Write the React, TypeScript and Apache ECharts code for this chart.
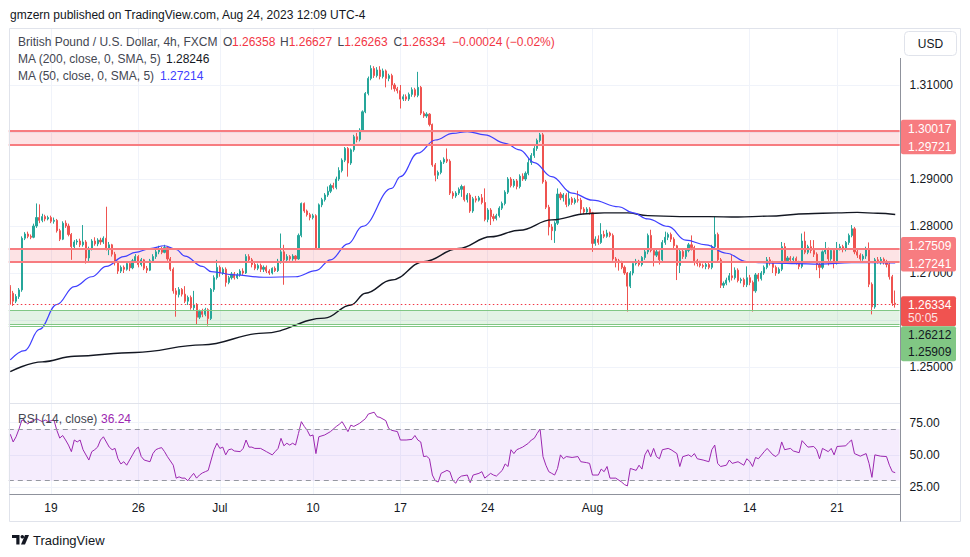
import { useEffect, useRef } from "react";
import * as echarts from "echarts";

const FONT = '"Liberation Sans", Arial, Helvetica, sans-serif';
const UP = "#26a69a";
const DOWN = "#ef5350";

// 4h GBP/USD candles, values in pips above 1.2000 (e.g. 671 -> 1.2671)
const BASE_PRICE = 1.2;
const opens = [
  671,657,640,650,664,774,783,778,776,800,
  818,812,820,815,818,810,812,790,772,806,
  800,782,756,766,768,760,766,732,752,768,
  762,770,766,774,752,760,740,722,704,712,
  708,720,711,726,735,718,728,710,706,726,
  735,745,752,744,754,730,708,662,654,665,
  655,640,648,626,632,606,618,612,622,603,
  665,690,712,700,708,680,690,698,690,696,
  704,700,735,728,718,710,716,708,712,704,
  700,710,705,725,745,728,735,730,736,730,
  780,848,832,824,818,822,753,845,856,866,
  874,886,882,900,918,940,965,934,962,990,
  984,1004,1043,1082,1114,1135,1120,1132,1118,1130,
  1114,1120,1100,1092,1088,1070,1075,1070,1080,1090,
  1078,1095,1040,1034,1038,1016,930,908,914,936,
  942,938,870,864,870,878,884,856,866,832,
  858,855,860,850,814,834,820,816,822,838,
  848,872,900,886,896,884,906,900,912,935,
  950,965,982,994,894,840,798,790,806,868,
  860,866,846,858,850,856,855,836,830,836,
  828,763,772,765,782,778,785,780,730,726,
  722,712,700,672,700,720,725,718,733,745,
  780,748,738,745,728,765,776,782,772,758,
  716,746,735,748,760,754,726,720,716,714,
  718,712,756,782,728,674,678,685,694,690,
  706,684,686,675,690,680,662,696,688,700,
  712,728,722,712,700,708,756,726,732,728,
  731,722,714,768,744,756,748,740,718,712,
  745,750,730,748,722,752,756,750,765,780,
  794,745,738,730,736,752,676,628,728,726,
  729,724,718,692,635.8,
];
const closes = [
  657,640,650,664,774,783,778,776,800,818,
  812,820,815,818,810,812,790,772,806,800,
  782,756,766,768,760,766,732,752,768,762,
  770,766,774,752,760,740,722,704,712,708,
  720,711,726,735,718,728,710,706,726,735,
  745,752,744,754,730,708,662,654,665,655,
  640,648,626,632,606,618,612,622,603,665,
  690,712,700,708,680,690,698,690,696,704,
  700,735,728,718,710,716,708,712,704,700,
  710,705,725,745,728,735,730,736,730,780,
  848,832,824,818,822,753,845,856,866,874,
  886,882,900,918,940,965,934,962,990,984,
  1004,1043,1082,1114,1135,1120,1132,1118,1130,1114,
  1120,1100,1092,1088,1070,1075,1070,1080,1090,1078,
  1095,1040,1034,1038,1016,930,908,914,936,942,
  938,870,864,870,878,884,856,866,832,858,
  855,860,850,814,834,820,816,822,838,848,
  872,900,886,896,884,906,900,912,935,950,
  965,982,994,894,840,798,790,806,868,860,
  866,846,858,850,856,855,836,830,836,828,
  763,772,765,782,778,785,780,730,726,722,
  712,700,672,700,720,725,718,733,745,780,
  748,738,745,728,765,776,782,772,758,716,
  746,735,748,760,754,726,720,716,714,718,
  712,756,782,728,674,678,685,694,690,706,
  684,686,675,690,680,662,696,688,700,712,
  728,722,712,700,708,756,726,732,728,731,
  722,714,768,744,756,748,740,718,712,745,
  750,730,748,722,752,756,750,765,780,794,
  745,738,730,736,752,676,628,728,726,729,
  724,718,692,636,633.4,
];
const lows = [
  633,630,636,645,660,770,774,772,774,796,
  806,808,810,812,806,805,786,768,770,796,
  778,728,752,760,755,756,720,725,748,758,
  757,760,762,748,738,735,716,698,700,700,
  705,704,708,722,712,714,706,700,704,722,
  730,740,740,742,726,704,656,607,648,650,
  636,632,622,620,590,602,606,608,588,600,
  660,686,692,696,671,676,686,686,687,692,
  696,698,722,712,706,706,702,702,700,696,
  697,702,702,720,675,724,726,726,726,728,
  776,828,820,812,814,750,750,840,852,862,
  870,878,878,896,914,936,905,930,958,978,
  980,1000,1040,1078,1110,1115,1116,1112,1114,1095,
  1108,1090,1086,1082,1050,1066,1066,1066,1075,1074,
  1074,1036,1030,1030,1012,926,895,900,910,932,
  934,866,858,860,866,862,852,850,828,828,
  850,852,846,810,808,802,810,812,818,834,
  844,868,882,882,878,880,896,896,908,930,
  945,960,978,890,836,780,770,764,802,855,
  852,840,842,845,846,850,826,825,826,824,
  745,758,760,762,774,775,776,726,712,705,
  708,696,618,668,695,716,714,714,728,740,
  744,714,734,718,724,760,770,766,752,685,
  700,730,730,744,748,716,714,712,710,708,
  708,708,752,724,668,668,674,680,684,686,
  680,678,670,670,674,618,658,682,684,696,
  708,716,700,694,698,704,720,722,724,724,
  718,708,710,740,740,742,734,706,689,708,
  740,716,726,710,718,748,744,746,760,776,
  740,732,726,726,730,670,612,624,720,718,
  718,712,686,630,626.3,
];
const highs = [
  674,662,655,668,778,787,788,782,805,848,
  846,826,824,822,822,818,815,794,810,812,
  805,785,770,772,773,802,770,756,772,776,
  774,775,778,841,766,762,745,726,716,716,
  724,724,730,740,738,732,730,715,730,740,
  750,758,756,760,756,734,712,668,670,668,
  672,652,652,662,636,622,624,626,625,668,
  695,728,716,712,712,694,702,702,700,708,
  710,740,740,732,722,720,720,716,716,708,
  712,714,730,784,760,740,738,740,738,784,
  850,850,835,828,826,825,848,860,870,884,
  890,892,905,925,944,968,968,965,994,998,
  1008,1046,1085,1118,1142,1140,1138,1140,1135,1133,
  1124,1124,1104,1096,1100,1080,1080,1084,1095,1094,
  1128,1098,1044,1042,1040,1018,934,918,940,946,
  965,942,874,874,882,888,886,870,870,862,
  864,864,868,880,838,838,826,826,842,852,
  876,904,904,900,900,910,912,916,945,955,
  970,986,998,998,898,845,804,810,880,872,
  870,870,875,862,860,875,860,840,840,840,
  830,778,780,806,790,792,788,784,734,730,
  726,716,702,704,724,730,728,736,750,784,
  792,752,750,748,770,788,786,786,776,760,
  750,752,752,764,780,758,730,726,720,722,
  722,760,820,786,732,682,690,700,738,712,
  710,690,690,714,696,684,700,700,704,716,
  734,734,726,716,712,766,764,736,736,735,
  735,726,784,788,760,770,770,744,722,748,
  766,754,752,752,766,762,760,768,784,802,
  798,752,742,740,756,765,680,732,734,734,
  733,728,722,696,662.7,
];

// time axis: bar index of each date label
const dateTickIndex = [14, 44, 72, 104, 134, 164, 200, 254, 284];
const dateTickLabels = ["19", "26", "Jul", "10", "17", "24", "Aug", "14", "21"];

// moving averages: [bar index, pips above 1.2000]
const ma200Pts = [
  [0,490],[11,511],[22,523],[43,531],[66,547],[87,572],[108,604],[117,632],[122,657],[131,685],
  [142,724],[154,752],[165,777],[175,791],[186,813],[198,826],[204,828],[212,828],[219,822],
  [230,820],[240,820],[250,819],[260,821],[274,826],[284,828],[291,829],[298,827],[304,824.6],
];
const ma50Pts = [
  [0,515],[5,535],[10,580],[16,633],[22,671],[28,692],[33,714],[39,735],[43,744],[48,752],
  [53,758],[57,750],[60,736],[66,714],[69,703],[77,696],[87,691],[98,692],[105,705],[110,728],
  [116,762],[121,799],[131,880],[134,905],[140,955],[146,983],[152,997],[157,1001],[163,994],
  [170,976],[175,962],[180,935],[186,905],[193,870],[200,855],[209,841],[214,828],[219,815],
  [226,799],[232,770],[239,760],[246,742],[253,724],[257,722],[263,721],[270,720],[278,719],
  [289,722],[296,722],[304,721.4],
];
// RSI(14): [bar index, value]
const rsiPts = [
  [0,66],[1,60],[2,64],[3,70],[4,77],[5,76],[6,74],[7,75.7],[8,76.5],[9,78],[11,75.7],[12,77],
  [13,75.7],[15,77],[16,69],[17,63],[18,65],[19,61.5],[20,57.6],[21,52.5],[22,61.5],[23,60],
  [24,61.5],[25,54],[27,46],[28,52.5],[29,54],[30,56],[31,61.5],[32,64],[34,56],[35,54],[36,55],
  [37,47],[38,43],[39,44.7],[40,42],[42,50],[43,54],[44,56],[45,48.7],[46,46],[48,44.7],[49,51],
  [50,54],[51,55],[52,55.6],[53,52.5],[54,48.6],[56,42],[57,32],[58,33],[59,32],[60,32],[61,30],
  [62,33],[63,35.7],[64,32],[65,34.4],[66,36],[67,37],[68,38],[69,46],[70,54],[71,59],[72,55],
  [73,56],[74,50],[75,54],[76,54.5],[77,53],[79,52.5],[80,55],[81,61.5],[82,56],[83,56],[84,55],
  [86,55],[88,52.5],[90,50],[91,52.5],[92,55],[93,62.8],[94,57],[95,59],[96,57.6],[97,59],
  [98,57.6],[99,66.6],[100,75.7],[101,72],[102,69],[103,64.6],[104,65.4],[105,51],[106,64],
  [108,65.4],[110,68],[112,72],[113,73.6],[114,75.7],[116,68],[117,73],[118,72],[120,74.4],
  [122,78],[123,81.6],[125,83],[126,79.5],[127,79],[129,76.5],[130,70.5],[131,69],[133,68],
  [134,61.5],[136,61.5],[138,62],[139,65],[140,61.5],[141,60],[142,48.7],[143,49],[144,47],
  [145,34.4],[146,30],[147,29],[148,35.7],[150,38],[151,37],[152,30.5],[153,28],[154,32],
  [155,33.6],[157,34.4],[158,28.5],[159,34.4],[161,35.7],[162,37],[163,32],[165,35.7],[166,34.4],
  [167,33.6],[169,38],[170,43],[171,41],[172,54],[173,51],[174,54],[175,55],[176,56],[178,59],
  [179,61.5],[180,62.8],[181,66.6],[182,70],[183,48.7],[184,42],[185,37],[186,35.7],[187,34.4],
  [188,39.5],[189,50],[190,47],[191,48.7],[193,48],[195,48.7],[196,44.7],[198,44],[199,43.4],
  [200,34.4],[202,34.4],[203,39],[204,37],[205,41],[206,32],[208,32],[210,29],[211,27],[212,26],
  [213,39.5],[215,38],[216,42],[217,39],[218,50],[219,54],[220,48.6],[221,55],[222,48.6],[223,47],
  [224,54],[226,55],[227,54],[229,51],[230,41],[231,48.6],[233,50],[234,48.6],[235,51],[236,47],
  [238,46],[240,44.7],[241,54],[242,57.6],[243,43.4],[244,41],[246,42],[247,46],[248,43.4],
  [250,44.7],[252,42],[253,47],[254,45],[255,41],[256,48],[257,47],[259,52.5],[260,55],[262,50],
  [263,48.7],[264,51],[265,60],[266,54],[268,55],[269,53],[271,51.7],[272,61],[274,56],[276,56.5],
  [277,54],[278,47],[279,55],[281,52.5],[282,55],[283,50],[284,56.5],[287,57],[288,59.5],
  [289,61.5],[290,51],[292,49],[294,51],[295,43.4],[296,32.6],[297,50],[299,49],[301,48.7],
  [302,42],[303,37],[304,36.24],
];

// drawn zones / levels
const resistanceZone = [1.29721, 1.30017];
const pivotZone = [1.27241, 1.27509];
const supportZone = [1.25909, 1.26212];
const supportExtraLine = 1.2587;
const lastClose = 1.26334;
const barCountdown = "50:05";
const legendLetters = ["O", "H", "L", "C"];
const legendValues = ["1.26358", "1.26627", "1.26263", "1.26334"];
const legendChange = "\u22120.00024 (\u22120.02%)";
const ma200Last = "1.28246";
const ma50Last = "1.27214";
const rsiLast = "36.24";
// price-scale labels hidden behind the level boxes in the reference
const hiddenPriceTicks = [1.24, 1.26, 1.3, 1.32];

const NCAT = 306;
const toP = (v: number) => +(BASE_PRICE + v / 10000).toFixed(5);

function buildOption() {
  const cats = Array.from({ length: NCAT }, (_, i) => String(i));
  const tickSet = new Set(dateTickIndex);
  const labelMap: Record<number, string> = {};
  dateTickIndex.forEach((ix, k) => (labelMap[ix] = dateTickLabels[k]));
  const candleData = opens.map((o, i) => [toP(o), toP(closes[i]), toP(lows[i]), toP(highs[i])]);
  const L = 8.8;
  const R = 70.4;
  const grid = "#f0f3fa";
  const none = "rgba(0,0,0,0)";
  const hiddenCat = (gi: number) => ({
    type: "category", gridIndex: gi, data: cats, boundaryGap: true,
    axisLine: { show: false }, axisTick: { show: false }, axisLabel: { show: false }, splitLine: { show: false },
  });
  const zoneLine = (v: number, color: string, width: number, type: any = "solid") => ({
    yAxis: v, lineStyle: { color, width, type },
  });
  return {
    animation: false,
    backgroundColor: "#ffffff",
    grid: [
      { left: L, right: R, top: 38, height: 376 },
      { left: L, right: R, top: 390.25, height: 129.25 },
      { left: L, right: R, top: 28, height: 466 },
    ],
    xAxis: [
      hiddenCat(0),
      hiddenCat(1),
      {
        type: "category", gridIndex: 2, data: cats, boundaryGap: true,
        axisLine: { show: false }, axisTick: { show: false },
        axisLabel: {
          show: true, interval: (i: number) => tickSet.has(i),
          formatter: (_v: string, i: number) => labelMap[i] ?? "",
          color: "#131722", fontSize: 12, fontFamily: FONT, margin: 8,
        },
        splitLine: {
          show: true, interval: (i: number) => tickSet.has(i), alignWithLabel: true,
          lineStyle: { color: grid, width: 1 },
        },
      },
    ],
    yAxis: [
      {
        type: "value", gridIndex: 0, position: "right", min: 1.24, max: 1.32, interval: 0.01,
        axisLine: { show: false }, axisTick: { show: false },
        axisLabel: {
          margin: 10, color: "#131722", fontSize: 12, fontFamily: FONT,
          formatter: (v: number) =>
            hiddenPriceTicks.some((h) => Math.abs(h - v) < 1e-6) ? "" : v.toFixed(5),
        },
        splitLine: { show: true, lineStyle: { color: [none, grid, grid, grid, grid, grid, grid, grid, none] } },
      },
      {
        type: "value", gridIndex: 1, position: "right", min: 0, max: 100, interval: 25,
        axisLine: { show: false }, axisTick: { show: false },
        axisLabel: {
          margin: 10, color: "#131722", fontSize: 12, fontFamily: FONT,
          formatter: (v: number) => (v === 0 || v === 100 ? "" : v.toFixed(2)),
        },
        splitLine: { show: true, lineStyle: { color: [none, grid, grid, grid, none] } },
      },
      { type: "value", gridIndex: 2, min: 0, max: 1, show: false },
    ],
    series: [
      {
        type: "candlestick", name: "GBPUSD", xAxisIndex: 0, yAxisIndex: 0, data: candleData,
        barWidth: 1.6, z: 2,
        itemStyle: { color: UP, color0: DOWN, borderColor: UP, borderColor0: DOWN, borderWidth: 1 },
        markArea: {
          silent: true,
          data: [
            [{ yAxis: resistanceZone[1], itemStyle: { color: "rgba(242,54,69,0.14)" } }, { yAxis: resistanceZone[0] }],
            [{ yAxis: pivotZone[1], itemStyle: { color: "rgba(242,54,69,0.14)" } }, { yAxis: pivotZone[0] }],
            [{ yAxis: supportZone[1], itemStyle: { color: "rgba(76,175,80,0.15)" } }, { yAxis: supportZone[0] }],
          ],
        },
        markLine: {
          silent: true, precision: 5, symbol: ["none", "none"], label: { show: false },
          data: [
            zoneLine(resistanceZone[0], "#f77c80", 2),
            zoneLine(resistanceZone[1], "#f77c80", 2),
            zoneLine(pivotZone[0], "#f77c80", 2),
            zoneLine(pivotZone[1], "#f77c80", 2),
            zoneLine(supportZone[0], "#81c784", 1),
            zoneLine(supportZone[1], "#81c784", 1),
            zoneLine(supportExtraLine, "#81c784", 1),
            zoneLine(lastClose, "#f23645", 1, [1.5, 2.5]),
          ],
        },
      },
      {
        type: "line", name: "MA200", xAxisIndex: 0, yAxisIndex: 0, z: 3,
        data: ma200Pts.map(([i, v]) => [i, toP(v)]),
        showSymbol: false, smooth: 0.4, smoothMonotone: "x",
        lineStyle: { color: "#131722", width: 1.4 },
      },
      {
        type: "line", name: "MA50", xAxisIndex: 0, yAxisIndex: 0, z: 3,
        data: ma50Pts.map(([i, v]) => [i, toP(v)]),
        showSymbol: false, smooth: 0.4, smoothMonotone: "x",
        lineStyle: { color: "#4040ff", width: 1.2 },
      },
      {
        type: "line", name: "RSI", xAxisIndex: 1, yAxisIndex: 1, z: 3,
        data: rsiPts, showSymbol: false,
        lineStyle: { color: "#9c27b0", width: 1 },
        markArea: {
          silent: true,
          data: [[{ yAxis: 70, itemStyle: { color: "rgba(140,40,230,0.09)" } }, { yAxis: 30 }]],
        },
        markLine: {
          silent: true, precision: 2, symbol: ["none", "none"], label: { show: false },
          data: [zoneLine(70, "#9598a1", 1, [5, 4]), zoneLine(30, "#9598a1", 1, [5, 4])],
        },
      },
    ],
  };
}

function buildGraphics(yOf: (p: number) => number) {
  const g: any[] = [];
  const txt = (x: number, y: number, text: string, fill: string, size = 12, extra: any = {}) => ({
    type: "text", x, y, z: 100, silent: true,
    style: {
      text, fill, font: `${size}px ${FONT}`,
      align: "left", verticalAlign: "middle", textAlign: "left", textVerticalAlign: "middle", ...extra,
    },
  });
  const ln = (x1: number, y1: number, x2: number, y2: number, stroke: string, w = 1) => ({
    type: "line", z: 60, silent: true, shape: { x1, y1, x2, y2 }, style: { stroke, lineWidth: w },
  });
  const frame = "#e0e3eb";
  const axisC = "#8f929c";
  g.push(ln(9.5, 28.5, 960.5, 28.5, frame));
  g.push(ln(9.5, 28.5, 9.5, 521.5, frame));
  g.push(ln(960.5, 28.5, 960.5, 521.5, frame));
  g.push(ln(9.5, 521.5, 960.5, 521.5, frame));
  g.push(ln(9.5, 403.5, 900, 403.5, frame));
  g.push(ln(9.5, 494.5, 900.5, 494.5, axisC));
  g.push(ln(900.5, 58, 900.5, 521.5, axisC));

  // header
  g.push(txt(10, 15, "gmzern published on TradingView.com, Aug 24, 2023 12:09 UTC-4", "#131722"));
  // legend
  const lg = "#434651";
  g.push(txt(18, 42, "British Pound / U.S. Dollar, 4h, FXCM", lg));
  const letterX = [223, 280, 337.5, 393.5];
  const valueX = [232, 288.7, 344.2, 402.2];
  legendLetters.forEach((l, k) => {
    g.push(txt(letterX[k], 42, l, lg));
    g.push(txt(valueX[k], 42, legendValues[k], "#f23645"));
  });
  g.push(txt(452, 42, legendChange, "#f23645"));
  g.push(txt(18, 59, "MA (200, close, 0, SMA, 5)", lg));
  g.push(txt(166, 59, ma200Last, "#131722"));
  g.push(txt(18, 75.5, "MA (50, close, 0, SMA, 5)", lg));
  g.push(txt(160, 75.5, ma50Last, "#4040ff"));
  g.push(txt(18, 419, "RSI (14, close)", lg));
  g.push(txt(101, 419, rsiLast, "#9c27b0"));

  // USD button
  g.push({ type: "rect", z: 100, silent: true, shape: { x: 904.5, y: 31.5, width: 52, height: 24, r: 4 }, style: { fill: "#fff", stroke: frame, lineWidth: 1 } });
  g.push(txt(930.5, 43.5, "USD", "#131722", 12, { align: "center", textAlign: "center" }));

  // price-scale label boxes
  const box = (y: number, h: number, fill: string) => ({
    type: "rect", z: 100, silent: true, shape: { x: 901, y, width: 55, height: h, r: 2 }, style: { fill },
  });
  const m1 = (yOf(resistanceZone[1]) + yOf(resistanceZone[0])) / 2;
  g.push(box(m1 - 18.5, 34.5, "#f77c80"));
  g.push(txt(908, m1 - 9, resistanceZone[1].toFixed(5), "#ffffff"));
  g.push(txt(908, m1 + 8.5, resistanceZone[0].toFixed(5), "#ffffff"));
  const m2 = (yOf(pivotZone[1]) + yOf(pivotZone[0])) / 2;
  g.push(box(m2 - 18.5, 34.5, "#f77c80"));
  g.push(txt(908, m2 - 9, pivotZone[1].toFixed(5), "#ffffff"));
  g.push(txt(908, m2 + 8.5, pivotZone[0].toFixed(5), "#ffffff"));
  const yl = yOf(lastClose);
  g.push(box(yl - 8, 30, "#f05350"));
  g.push(txt(908, yl + 0.5, lastClose.toFixed(5), "#ffffff"));
  g.push(txt(908, yl + 14, barCountdown, "rgba(255,255,255,0.85)"));
  const gt = yl + 22;
  g.push(box(gt, 35, "#81c784"));
  g.push(txt(908, gt + 8.5, supportZone[1].toFixed(5), "#131722"));
  g.push(txt(908, gt + 26, supportZone[0].toFixed(5), "#131722"));

  // TradingView logo
  const logo = "#131722";
  g.push({ type: "polygon", z: 100, silent: true, shape: { points: [[12, 535], [19.5, 535], [19.5, 544.5], [16.3, 544.5], [16.3, 538], [12, 538]] }, style: { fill: logo } });
  g.push({ type: "circle", z: 100, silent: true, shape: { cx: 22.3, cy: 536.8, r: 1.8 }, style: { fill: logo } });
  g.push({ type: "polygon", z: 100, silent: true, shape: { points: [[25, 535], [29, 535], [25, 544.5], [21, 544.5]] }, style: { fill: logo } });
  g.push(txt(33, 540, "TradingView", "#131722", 13));
  return g;
}

export default function App() {
  const ref = useRef<HTMLDivElement>(null);
  useEffect(() => {
    if (!ref.current) return;
    const chart = echarts.init(ref.current, undefined, { renderer: "svg", width: 970, height: 557 });
    chart.setOption(buildOption() as any);
    const yOf = (p: number) => chart.convertToPixel({ yAxisIndex: 0 } as any, p) as unknown as number;
    chart.setOption({ graphic: buildGraphics(yOf) } as any);
    return () => chart.dispose();
  }, []);
  return (
    <div
      ref={ref}
      style={{ position: "fixed", left: 0, top: 0, width: 970, height: 557, background: "#ffffff" }}
    />
  );
}
